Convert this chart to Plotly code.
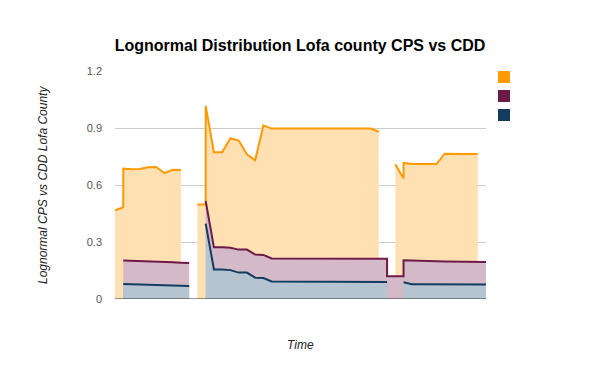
import plotly.graph_objects as go

# Time index (duplicated indices mark same-time rows where series jump)
time_idx = [0, 1, 1, 2, 3, 4, 5, 6, 7, 8, 9,
            10, 11, 11, 12, 13, 14, 15, 16, 17, 18, 19,
            20, 21, 22, 23, 24, 25, 26, 27, 28, 29, 30, 31, 32, 33, 33,
            34, 35, 35, 36, 37, 38, 39, 40, 41, 42, 43, 44, 45]

series_orange = [0.467, 0.483, 0.686, 0.683, 0.684, 0.693, 0.695, 0.662, 0.680, 0.679, None,
                 0.498, 0.498, 1.016, 0.772, 0.772, 0.846, 0.834, 0.762, 0.730, 0.914, 0.897,
                 0.897, 0.897, 0.897, 0.897, 0.897, 0.897, 0.897, 0.897, 0.897, 0.897, 0.897, 0.897, 0.880, None, None,
                 0.709, 0.634, 0.716, 0.710, 0.710, 0.710, 0.710, 0.765, 0.763, 0.763, 0.763, 0.763, None]

series_maroon = [None, None, 0.202, 0.201, 0.200, 0.198, 0.197, 0.195, 0.193, 0.191, 0.189,
                 None, None, 0.516, 0.272, 0.272, 0.270, 0.260, 0.260, 0.234, 0.232, 0.213,
                 0.213, 0.213, 0.213, 0.213, 0.213, 0.213, 0.213, 0.213, 0.213, 0.213, 0.213, 0.213, 0.213, 0.212, 0.120,
                 0.120, 0.120, 0.204, 0.202, 0.201, 0.200, 0.199, 0.198, 0.197, 0.196, 0.196, 0.195, 0.195]

series_navy = [None, None, 0.079, 0.078, 0.077, 0.076, 0.075, 0.073, 0.071, 0.070, 0.068,
               None, None, 0.397, 0.155, 0.155, 0.152, 0.139, 0.139, 0.112, 0.110, 0.092,
               0.092, 0.092, 0.092, 0.092, 0.092, 0.092, 0.092, 0.092, 0.092, 0.092, 0.092, 0.092, 0.091, 0.090, None,
               None, None, 0.088, 0.078, 0.077, 0.077, 0.077, 0.077, 0.076, 0.076, 0.076, 0.076, 0.076]

y_ticks = [0, 0.3, 0.6, 0.9, 1.2]
y_tick_labels = ["0", "0.3", "0.6", "0.9", "1.2"]

line_colors = ["#FF9900", "#6D1A48", "#143C60"]
# 30% opacity of each colour over white, made opaque so fills do not mix
fill_colors = ["#FFE0B3", "#D4BAC8", "#B5C4D0"]


def segments(xs, ys):
    segs, cx, cy = [], [], []
    for x, y in zip(xs, ys):
        if y is None:
            if cx:
                segs.append((cx, cy))
            cx, cy = [], []
        else:
            cx.append(x)
            cy.append(y)
    if cx:
        segs.append((cx, cy))
    return segs


all_series = [series_orange, series_maroon, series_navy]

fig = go.Figure()
# fills (painted back to front)
for ys, fc in zip(all_series, fill_colors):
    for sx, sy in segments(time_idx, ys):
        fig.add_trace(go.Scatter(
            x=sx, y=sy, mode="lines", fill="tozeroy", fillcolor=fc,
            line=dict(width=0, color=fc), showlegend=False, hoverinfo="skip"))
# lines on top
for ys, lc in zip(all_series, line_colors):
    for sx, sy in segments(time_idx, ys):
        fig.add_trace(go.Scatter(
            x=sx, y=sy, mode="lines", line=dict(color=lc, width=2),
            showlegend=False, hoverinfo="skip"))

L, R, T, B = 115, 114, 71, 72
W, H = 600, 371
pw, ph = W - L - R, H - T - B

shapes = []
shapes.append(dict(type="line", xref="paper", yref="y", x0=0, x1=1, y0=0, y1=0,
                   line=dict(color="#333333", width=1), layer="above"))
for i, c in enumerate(line_colors):
    top = 71 + 19 * i
    shapes.append(dict(type="rect", xref="paper", yref="paper",
                       x0=(498 - L) / pw, x1=(510 - L) / pw,
                       y0=(H - B - top - 12) / ph, y1=(H - B - top) / ph,
                       fillcolor=c, line=dict(width=0)))

fig.update_layout(
    width=W, height=H,
    margin=dict(l=L, r=R, t=T, b=B, pad=0),
    paper_bgcolor="white", plot_bgcolor="white",
    font=dict(family="Liberation Sans, Arial, sans-serif", color="#444444"),
    title=dict(text="<b>Lognormal Distribution Lofa county CPS vs CDD</b>",
               x=0.5, xanchor="center", y=1 - 45 / H, yanchor="middle",
               font=dict(size=16, color="#000000")),
    xaxis=dict(range=[0, 45], showgrid=False, showticklabels=False, zeroline=False,
               showline=False, ticks="", fixedrange=True),
    yaxis=dict(range=[0, 1.2], tickvals=y_ticks, ticktext=y_tick_labels,
               showgrid=True, gridcolor="#cccccc", gridwidth=1, zeroline=False,
               showline=False, ticks="", ticklabelstandoff=12, fixedrange=True,
               tickfont=dict(size=11, color="#555555")),
    shapes=shapes,
    annotations=[
        dict(text="<i>Lognormal CPS vs CDD Lofa County</i>", xref="paper", yref="paper",
             x=(43 - L) / pw, y=0.5, xanchor="center", yanchor="middle",
             textangle=-90, showarrow=False, font=dict(size=12, color="#222222")),
        dict(text="<i>Time</i>", xref="paper", yref="paper",
             x=0.5, y=(H - B - 345) / ph, xanchor="center", yanchor="middle",
             showarrow=False, font=dict(size=12, color="#222222")),
    ],
)

fig.write_html("out.html", config={"displayModeBar": False},
               post_script="document.body.style.margin='0';document.body.style.overflow='hidden';")
